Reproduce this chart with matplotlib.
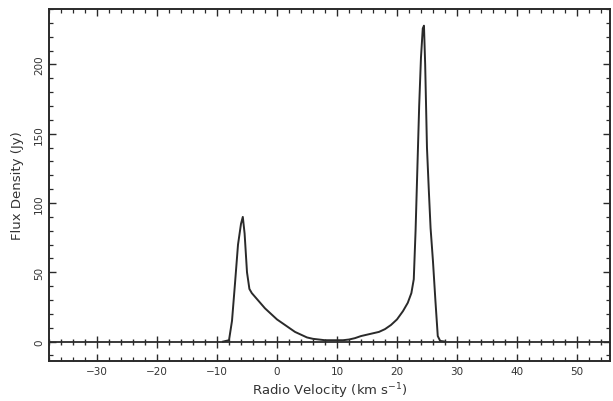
import numpy as np
import matplotlib
matplotlib.use("Agg")
import matplotlib.pyplot as plt
from matplotlib.ticker import MultipleLocator

velocity = [-9.0, -8.0, -7.5, -7.0, -6.5, -6.0, -5.7, -5.4, -5.0, -4.6, -4.2, -3.8, -3.0,
            -2.0, -1.0, 0.0, 1.0, 2.0, 3.0, 4.0, 5.0, 6.0, 7.0, 8.0, 9.0, 10.0, 11.0,
            12.0, 13.0, 14.0, 15.0, 16.0, 17.0, 18.0, 19.0, 20.0, 21.0, 21.8, 22.4,
            22.8, 23.1, 23.4, 23.7, 24.0, 24.3, 24.5, 24.7, 25.0, 25.3, 25.6, 26.0,
            26.4, 26.8, 27.2, 28.0]
flux = [0, 1, 15, 42, 70, 85, 90, 78, 50, 38, 35, 33, 29,
        24, 20, 16, 13, 10, 7, 5, 3, 2, 1.5, 1, 1, 1, 1,
        1.5, 2.5, 4, 5, 6, 7, 9, 12, 16, 22, 28, 35,
        45, 80, 125, 170, 205, 226, 228, 200, 140, 110, 82, 58,
        30, 4, 0.5, 0]

x_major = [-30, -20, -10, 0, 10, 20, 30, 40, 50]
y_major = [0, 50, 100, 150, 200]

fig = plt.figure(figsize=(6.13, 4.02), dpi=100)
ax = fig.add_axes([0.080, 0.0995, 0.915, 0.8755])

col = "#2a2a2a"
ax.plot(velocity, flux, color=col, lw=1.4)
ax.axhline(0, color=col, lw=1.3)

# ticks crossing the zero line
minor_x = np.arange(-38, 56, 2)
minor_x = [v for v in minor_x if v % 10 != 0]
ax.plot(minor_x, np.zeros(len(minor_x)), ls="none", marker="|", ms=5, mew=1.0, color=col)
ax.plot(x_major, np.zeros(len(x_major)), ls="none", marker="|", ms=9, mew=1.0, color=col)

ax.set_xlim(-38, 55.5)
ax.set_ylim(-14, 240)
ax.set_xticks(x_major)
ax.set_yticks(y_major)
ax.xaxis.set_minor_locator(MultipleLocator(2))
ax.yaxis.set_minor_locator(MultipleLocator(10))
ax.tick_params(which="both", direction="in", top=True, right=True, color=col,
               labelsize=7.5, labelcolor="#333333")
ax.tick_params(which="major", length=5, width=1.0)
ax.tick_params(which="minor", length=3, width=0.9)
for lab in ax.get_yticklabels():
    lab.set_rotation(90)
    lab.set_va("center")
for s in ax.spines.values():
    s.set_linewidth(1.4)
    s.set_color(col)

ax.set_xlabel("Radio Velocity (km s$^{-1}$)", fontsize=9.5, color="#333333", labelpad=3)
ax.set_ylabel("Flux Density (Jy)", fontsize=9.5, color="#333333", labelpad=7)

fig.savefig("out.png", dpi=100)
